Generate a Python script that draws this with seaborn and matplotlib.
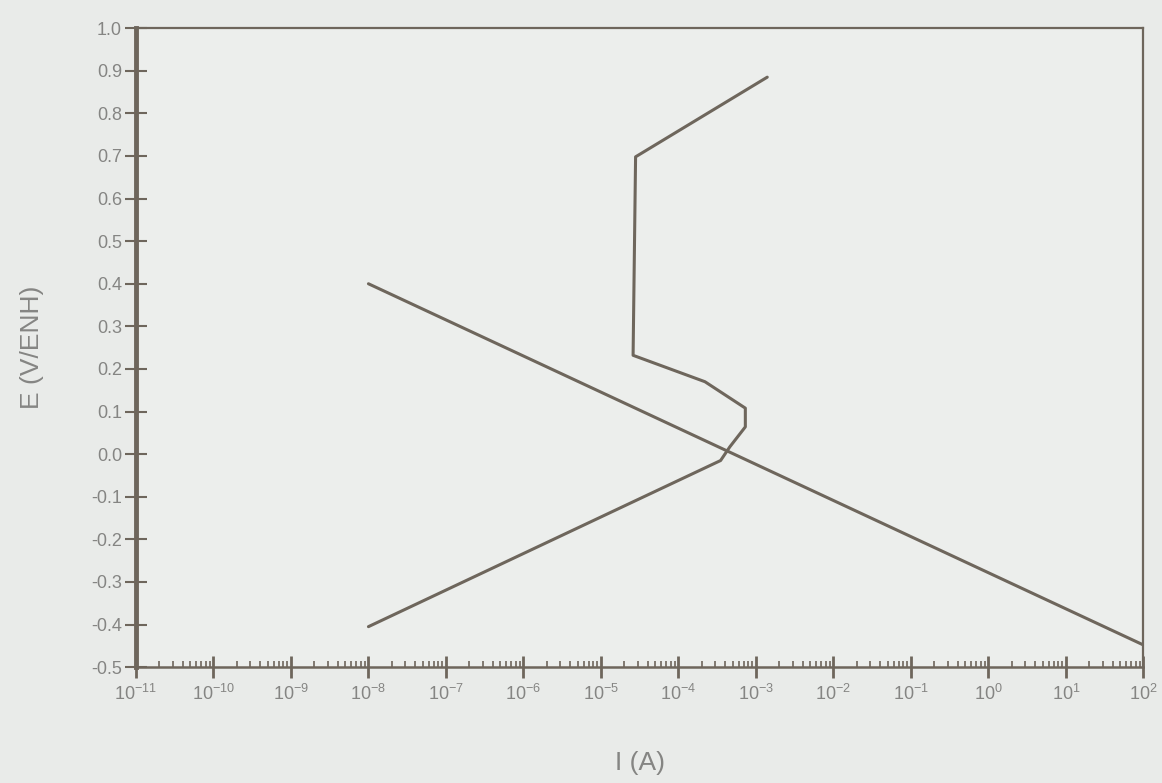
import numpy as np
import pandas as pd
import matplotlib
matplotlib.use("Agg")
import matplotlib.pyplot as plt
import matplotlib.ticker as mticker
import seaborn as sns

# polarisation curve of the metal (anodic + passive branch)
metal_current = [1e-8, 3.5e-4, 4.6e-4, 7.3e-4, 7.3e-4, 2.2e-4, 2.6e-5, 2.8e-5, 1.4e-3]
metal_potential = [-0.405, -0.015, 0.017, 0.064, 0.108, 0.17, 0.232, 0.698, 0.885]

# cathodic reduction line
cathode_current = [1e-8, 1e2]
cathode_potential = [0.40, -0.448]

x_ticks = [10.0 ** k for k in range(-11, 3)]
y_ticks = [round(v, 1) for v in np.arange(-0.5, 1.01, 0.1)]

metal = pd.DataFrame({"I": metal_current, "E": metal_potential})
cathode = pd.DataFrame({"I": cathode_current, "E": cathode_potential})

sns.set_style("white")
plt.rcParams['font.family'] = ['Liberation Sans', 'DejaVu Sans']

line_col = "#6e665c"
text_col = "#858583"
bg = "#e9ebe9"

fig = plt.figure(figsize=(11.62, 7.83), dpi=100, facecolor=bg)
ax = fig.add_axes([0.117, 0.148, 0.867, 0.816])
ax.set_facecolor("#eceeec")

sns.lineplot(data=metal, x="I", y="E", sort=False, estimator=None,
             color=line_col, linewidth=2.2, ax=ax)
sns.lineplot(data=cathode, x="I", y="E", sort=False, estimator=None,
             color=line_col, linewidth=2.2, ax=ax)

ax.set_xscale("log")
ax.set_xlim(1e-11, 1e2)
ax.set_ylim(-0.5, 1.0)
ax.set_xticks(x_ticks)
ax.xaxis.set_major_formatter(mticker.LogFormatterMathtext())
ax.xaxis.set_minor_locator(mticker.LogLocator(base=10, subs=np.arange(2, 10), numticks=100))
ax.xaxis.set_minor_formatter(mticker.NullFormatter())
ax.set_yticks(y_ticks)
ax.set_yticklabels([f"{v:.1f}".replace("-0.0", "0.0") for v in y_ticks])

for side in ["left", "bottom", "right", "top"]:
    ax.spines[side].set_color(line_col)
ax.spines["left"].set_linewidth(3.5)
ax.spines["bottom"].set_linewidth(1.8)
ax.spines["right"].set_linewidth(1.6)
ax.spines["top"].set_linewidth(1.6)

ax.tick_params(axis="x", which="both", bottom=True, top=False)
ax.tick_params(axis="y", which="both", left=True, right=False)
ax.tick_params(axis="x", which="major", direction="inout", length=16, width=2,
               color=line_col, labelcolor=text_col, labelsize=13, pad=4)
ax.tick_params(axis="x", which="minor", direction="in", length=4, width=1.2,
               color=line_col)
ax.tick_params(axis="y", which="major", direction="inout", length=16, width=1.5,
               color=line_col, labelcolor=text_col, labelsize=13, pad=2)

ax.set_xlabel("I (A)", fontsize=19, color=text_col, labelpad=34)
ax.set_ylabel("E (V/ENH)", fontsize=19, color=text_col, labelpad=34)

fig.savefig("out.png", dpi=100, facecolor=bg)
